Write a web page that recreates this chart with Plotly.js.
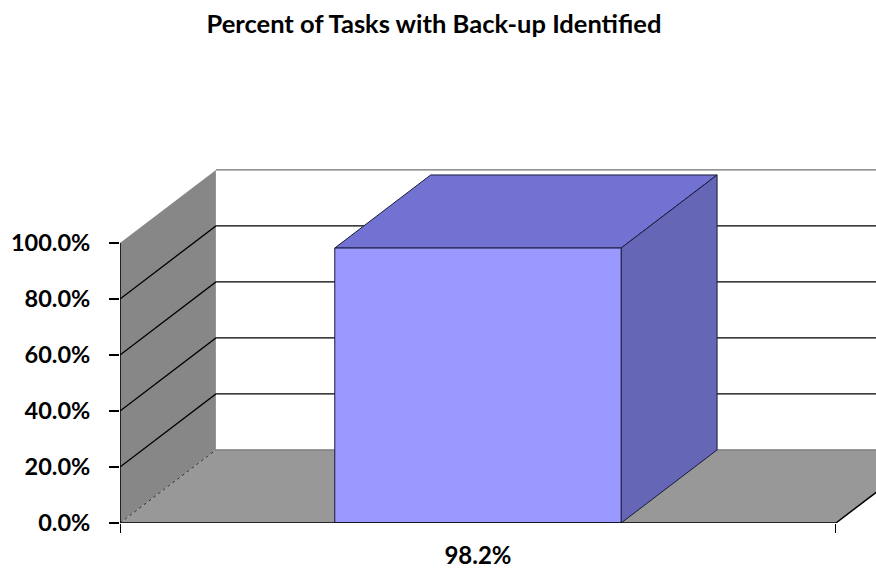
<!DOCTYPE html>
<html>
<head>
<meta charset="utf-8">
<script src="https://cdn.plot.ly/plotly-3.0.1.min.js"></script>
<style>html,body{margin:0;padding:0;background:#fff}#chart{width:876px;height:571px}</style>
</head>
<body>
<div id="chart"></div>
<script>
// ---- data ----
const chartTitle = 'Percent of Tasks with Back-up Identified';
const categories = ['98.2%'];
const values = [98.2];
const yTickValues = [0, 20, 40, 60, 80, 100];
const yTickLabels = ['0.0%', '20.0%', '40.0%', '60.0%', '80.0%', '100.0%'];

// ---- 3D projection settings (style) ----
const DX = 0.134;      // depth offset in x units (one category = 1 unit)
const DY = 26.1;       // depth offset in y units
const BAR_FRAC = 0.4;  // bar width as fraction of category
const Y_MAX = 100;

const traces = [];
function poly(pts, fill, lineColor, lineWidth, dash) {
  const xs = pts.map(p => p[0]), ys = pts.map(p => p[1]);
  traces.push({
    type: 'scatter', mode: 'lines', x: xs, y: ys,
    fill: fill ? 'toself' : 'none', fillcolor: fill || undefined,
    line: {color: lineColor || 'rgba(0,0,0,0)', width: lineWidth === undefined ? 1 : lineWidth, dash: dash || 'solid'},
    hoverinfo: 'skip', showlegend: false
  });
}
const N = categories.length;
// side wall
poly([[0,0],[DX,DY],[DX,Y_MAX+DY],[0,Y_MAX],[0,0]], '#878787', null, 0);
// back wall
poly([[DX,DY],[N+DX,DY],[N+DX,Y_MAX+DY],[DX,Y_MAX+DY],[DX,DY]], '#ffffff', null, 0);
// floor
poly([[0,0],[N,0],[N+DX,DY],[DX,DY],[0,0]], '#989898', null, 0);
// gridlines
yTickValues.forEach(v => {
  if (v === 0 || v === Y_MAX) return;
  poly([[0,v],[DX,v+DY],[N+DX,v+DY]], null, '#000000', 1.3);
});
// wall top edge
poly([[DX,Y_MAX+DY],[N+DX,Y_MAX+DY]], null, '#707070', 1.3);
// floor edges
poly([[0,0],[DX,DY]], null, '#333333', 1, 'dot');
poly([[DX,DY],[N+DX,DY]], null, '#777777', 1.2);
// bars
categories.forEach((c, i) => {
  const v = values[i];
  const x0 = i + (1 - BAR_FRAC) / 2, x1 = x0 + BAR_FRAC;
  poly([[x0,v],[x0+DX,v+DY],[x1+DX,v+DY],[x1,v],[x0,v]], '#7272D2', '#1a1a3a', 1);
  poly([[x1,0],[x1+DX,DY],[x1+DX,v+DY],[x1,v],[x1,0]], '#6666B6', '#1a1a3a', 1);
  poly([[x0,0],[x1,0],[x1,v],[x0,v],[x0,0]], '#9999FF', '#1a1a3a', 1);
});
// front axis lines
poly([[0,Y_MAX],[0,0],[N,0],[N+DX,DY]], null, '#000000', 1.5);

const font = {family: 'Lato, "DejaVu Sans", sans-serif', weight: 700, color: '#000000'};
const layout = {
  width: 876, height: 571,
  margin: {l: 120, r: 0, t: 160, b: 48, pad: 0},
  paper_bgcolor: '#ffffff', plot_bgcolor: '#ffffff',
  showlegend: false,
  title: {text: chartTitle, x: 434/876, xanchor: 'center', y: 1 - 24/571, yanchor: 'middle', yref: 'container',
          font: Object.assign({}, font, {size: 25.5})},
  xaxis: {
    range: [0, 1.056 * N], showgrid: false, zeroline: false, showline: false, fixedrange: true,
    tickmode: 'array', tickvals: categories.map((c, i) => i + 0.5), ticktext: categories,
    ticks: '', ticklabelstandoff: 16,
    tickfont: Object.assign({}, font, {size: 24}),
    minor: {tickmode: 'array', tickvals: Array.from({length: N + 1}, (_, i) => i), ticks: 'outside', ticklen: 9, tickcolor: '#000000', tickwidth: 1, showgrid: false}
  },
  yaxis: {
    range: [0, 363 / 2.8], showgrid: false, zeroline: false, showline: false, fixedrange: true,
    tickmode: 'array', tickvals: yTickValues, ticktext: yTickLabels,
    ticks: 'outside', ticklen: 10, tickcolor: '#000000', tickwidth: 1.3,
    ticklabelstandoff: 14,
    tickfont: Object.assign({}, font, {size: 23.5})
  }
};
Plotly.newPlot('chart', traces, layout, {displayModeBar: false, staticPlot: true});
</script>
</body>
</html>
